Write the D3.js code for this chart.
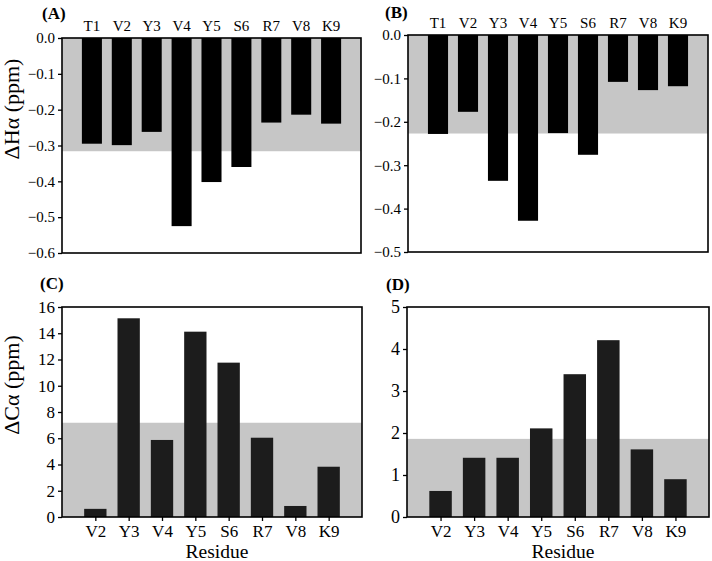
<!DOCTYPE html>
<html>
<head>
<meta charset="utf-8">
<script src="https://cdn.jsdelivr.net/npm/d3@7"></script>
<style>
  body { margin: 0; background: #fff; }
  svg text { font-family: "Liberation Serif", "Times New Roman", serif; fill: #000; }
</style>
</head>
<body>
<div id="chart"></div>
<script>
// residues
const residuesTop = ["T1", "V2", "Y3", "V4", "Y5", "S6", "R7", "V8", "K9"];
const residuesBottom = ["V2", "Y3", "V4", "Y5", "S6", "R7", "V8", "K9"];

// chemical shift deviations
const dHaA = [-0.295, -0.299, -0.262, -0.525, -0.402, -0.360, -0.236, -0.214, -0.239];
const dHaB = [-0.228, -0.177, -0.336, -0.428, -0.226, -0.276, -0.108, -0.127, -0.118];
const dCaC = [0.62, 15.14, 5.87, 14.12, 11.76, 6.04, 0.84, 3.83];
const dCaD = [0.62, 1.41, 1.41, 2.11, 3.40, 4.21, 1.61, 0.90];

// shaded reference ranges
const bandA = -0.316;
const bandB = -0.227;
const bandC = 7.18;
const bandD = 1.86;

// y tick labels
const ticksA = [0, -0.1, -0.2, -0.3, -0.4, -0.5, -0.6];
const ticksB = [0, -0.1, -0.2, -0.3, -0.4, -0.5];
const ticksC = [0, 2, 4, 6, 8, 10, 12, 14, 16];
const ticksD = [0, 1, 2, 3, 4, 5];

const svg = d3.select("#chart").append("svg")
    .attr("width", 712)
    .attr("height", 561);

function panel(opt) {
    const g = svg.append("g");
    const n = opt.cats.length;

    // bars sit at integer slots, with half-empty slots at both ends
    const x = d3.scaleLinear().domain([0, n + 1]).range([opt.left, opt.right]);
    const y = d3.scaleLinear().domain(opt.domain).range(opt.negative ? [opt.top, opt.bottom] : [opt.bottom, opt.top]);
    const bw = (x(1) - x(0)) * 0.67;

    // gray band from zero to the reference value
    g.append("rect")
        .attr("x", opt.left)
        .attr("width", opt.right - opt.left)
        .attr("y", Math.min(y(0), y(opt.band)))
        .attr("height", Math.abs(y(opt.band) - y(0)))
        .attr("fill", "#c6c6c6");

    const data = opt.cats.map((c, i) => ({ c, i: i + 1, v: opt.values[i] }));

    g.selectAll(".bar")
        .data(data)
        .enter()
        .append("rect")
        .attr("x", d => x(d.i) - bw / 2)
        .attr("width", bw)
        .attr("y", d => Math.min(y(0), y(d.v)))
        .attr("height", d => Math.abs(y(d.v) - y(0)))
        .attr("fill", opt.barColor);

    // frame
    g.append("rect")
        .attr("x", opt.left)
        .attr("y", opt.top)
        .attr("width", opt.right - opt.left)
        .attr("height", opt.bottom - opt.top)
        .attr("fill", "none")
        .attr("stroke", "#000")
        .attr("stroke-width", 1.6);

    // y axis
    const ya = g.append("g")
        .attr("transform", `translate(${opt.left},0)`)
        .call(d3.axisLeft(y).tickValues(opt.ticks).tickFormat(opt.fmt).tickSize(4).tickPadding(3));
    ya.select(".domain").remove();
    ya.selectAll("line").attr("stroke", "#000").attr("stroke-width", 1.3);
    ya.selectAll("text")
        .style("font-family", "Liberation Serif")
        .style("font-size", opt.tickSize + "px")
        .attr("fill", "#000");

    // category labels
    if (opt.negative) {
        g.selectAll(".cat")
            .data(data)
            .enter()
            .append("text")
            .attr("x", d => x(d.i))
            .attr("y", opt.top - 7)
            .attr("text-anchor", "middle")
            .style("font-size", opt.catSize + "px")
            .text(d => d.c);
    } else {
        const xa = g.append("g")
            .attr("transform", `translate(0,${opt.bottom})`)
            .call(d3.axisBottom(x).tickValues(data.map(d => d.i)).tickFormat(i => opt.cats[i - 1]).tickSize(4).tickPadding(4));
        xa.select(".domain").remove();
        xa.selectAll("line").attr("stroke", "#000").attr("stroke-width", 1.3);
        xa.selectAll("text")
            .style("font-family", "Liberation Serif")
            .style("font-size", opt.catSize + "px")
            .attr("fill", "#000");
        g.append("text")
            .attr("x", (opt.left + opt.right) / 2 + 5)
            .attr("y", opt.bottom + 41)
            .attr("text-anchor", "middle")
            .style("font-size", "19.5px")
            .text("Residue");
    }

    // panel letter
    g.append("text")
        .attr("x", opt.letterX)
        .attr("y", opt.letterY)
        .style("font-size", "17px")
        .style("font-weight", "bold")
        .text(opt.letter);

    if (opt.ylabel) {
        g.append("text")
            .attr("transform", `translate(19,${opt.labelY}) rotate(-90)`)
            .attr("text-anchor", "middle")
            .style("font-size", "22px")
            .text(opt.ylabel);
    }
}

panel({ cats: residuesTop, values: dHaA, band: bandA, domain: [0, -0.6], negative: true,
        ticks: ticksA, fmt: d3.format(".1f"), left: 62, right: 361, top: 38, bottom: 253,
        barColor: "#000", tickSize: 15, catSize: 15, letter: "(A)", letterX: 42, letterY: 19,
        ylabel: "ΔHα (ppm)", labelY: 109 });

panel({ cats: residuesTop, values: dHaB, band: bandB, domain: [0, -0.5], negative: true,
        ticks: ticksB, fmt: d3.format(".1f"), left: 408, right: 708, top: 35, bottom: 252,
        barColor: "#000", tickSize: 15, catSize: 15, letter: "(B)", letterX: 385, letterY: 18 });

panel({ cats: residuesBottom, values: dCaC, band: bandC, domain: [0, 16], negative: false,
        ticks: ticksC, fmt: d3.format("d"), left: 62, right: 362, top: 307, bottom: 517,
        barColor: "#1c1c1c", tickSize: 17, catSize: 17, letter: "(C)", letterX: 40, letterY: 289,
        ylabel: "ΔCα (ppm)", labelY: 385 });

panel({ cats: residuesBottom, values: dCaD, band: bandD, domain: [0, 5], negative: false,
        ticks: ticksD, fmt: d3.format("d"), left: 407, right: 709, top: 307, bottom: 517,
        barColor: "#1c1c1c", tickSize: 18, catSize: 17, letter: "(D)", letterX: 386, letterY: 290 });
</script>
</body>
</html>
